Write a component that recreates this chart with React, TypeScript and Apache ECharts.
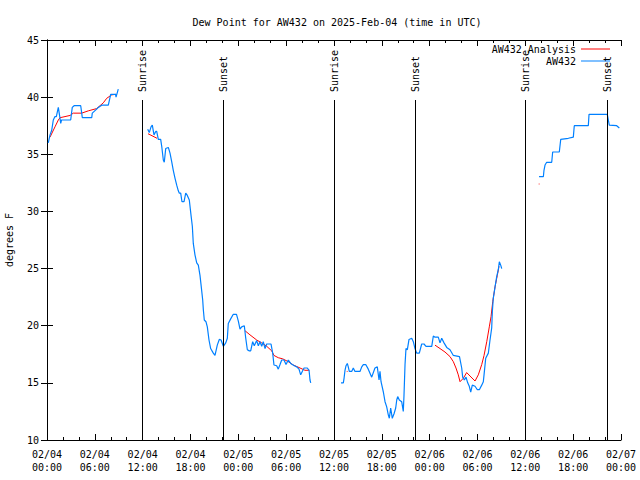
import React, { useEffect, useRef } from "react";
import * as echarts from "echarts";

// hours since 2025-02-04 00:00 UTC, dew point °F
const observed1: [number, number][] = [
  [0.16, 36.0], [0.38, 36.7], [0.59, 37.1], [0.79, 38.0], [1.0, 38.3], [1.17, 38.3], [1.42, 39.1], [1.6, 38.3],
  [1.72, 37.7], [1.82, 38.0], [2.97, 38.0], [3.17, 39.1], [3.4, 39.25], [4.23, 39.25], [4.43, 38.2], [5.61, 38.2],
  [5.68, 38.6], [6.23, 38.95], [6.44, 39.1], [6.86, 39.3], [7.69, 39.3], [7.99, 40.25], [8.6, 40.25], [8.66, 40.0],
  [8.94, 40.7],
];
const observed2: [number, number][] = [
  [12.63, 37.2], [12.83, 36.9], [13.05, 37.4], [13.21, 37.56], [13.42, 36.7], [13.64, 37.0], [13.76, 37.0],
  [13.96, 36.3], [14.26, 36.3], [14.39, 35.7], [14.59, 34.5], [14.71, 34.3], [14.89, 35.5], [15.22, 35.6],
  [15.43, 35.1], [15.64, 34.35], [15.84, 33.6], [16.06, 32.9], [16.27, 32.3], [16.47, 31.8], [16.6, 31.6],
  [16.77, 31.6], [16.93, 30.85], [17.19, 30.85], [17.4, 31.6], [17.6, 31.4], [17.85, 31.0], [18.06, 29.7],
  [18.23, 28.7], [18.35, 27.2], [18.56, 26.2], [18.78, 25.5], [18.98, 25.3], [19.19, 24.4], [19.32, 23.6],
  [19.53, 22.25], [19.61, 21.4], [19.73, 20.5], [19.94, 20.35], [20.11, 19.9], [20.32, 18.75], [20.53, 18.0],
  [20.86, 17.6], [21.07, 17.4], [21.36, 18.3], [21.61, 18.8], [21.83, 18.75], [22.12, 18.2], [22.42, 18.5],
  [22.62, 18.9], [22.74, 20.2], [23.04, 20.6], [23.37, 21.0], [23.77, 21.0], [24.0, 20.4], [24.21, 19.7],
  [24.42, 19.9], [24.75, 20.0], [24.93, 18.9], [25.13, 17.9], [25.38, 17.8], [25.55, 17.8], [25.8, 18.6],
  [26.0, 18.25], [26.3, 18.7], [26.51, 18.25], [26.72, 18.6], [26.93, 18.2], [27.13, 18.6], [27.35, 18.0],
  [27.56, 18.4], [28.1, 18.4], [28.31, 17.6], [28.47, 16.56], [28.81, 16.5], [29.01, 16.2], [29.23, 16.6],
  [29.44, 17.0], [29.73, 17.0], [29.98, 16.6], [30.27, 17.0], [30.57, 16.7], [31.02, 16.5], [31.32, 16.4],
  [31.61, 16.2], [31.82, 15.7], [32.02, 16.0], [32.24, 16.3], [32.65, 16.3], [32.87, 16.1], [32.99, 15.25],
  [33.08, 15.0],
];
const observed3: [number, number][] = [
  [36.88, 15.0], [37.17, 15.0], [37.26, 15.4], [37.38, 16.1], [37.51, 16.5], [37.67, 16.7], [37.79, 16.4],
  [37.92, 16.0], [38.22, 16.0], [38.42, 16.3], [38.63, 16.0], [39.26, 16.0], [39.48, 16.4], [39.68, 16.6],
  [39.98, 16.6], [40.3, 16.2], [40.73, 15.5], [41.14, 16.3], [41.43, 16.4], [41.65, 15.25], [41.77, 16.0],
  [41.9, 15.1], [42.19, 14.2], [42.4, 13.35], [42.61, 12.9], [42.81, 12.2], [42.94, 11.9], [43.11, 12.8],
  [43.31, 11.9], [43.53, 12.3], [43.74, 12.8], [43.87, 13.5], [43.99, 13.8], [44.19, 13.5], [44.49, 13.35],
  [44.69, 12.5], [44.78, 13.9], [44.91, 16.6], [45.03, 18.0], [45.2, 17.9], [45.41, 18.8], [45.75, 18.9],
  [45.95, 18.6], [46.16, 18.0], [46.37, 17.6], [46.7, 17.6], [47.0, 18.4], [47.29, 18.4], [47.54, 18.2],
  [48.26, 18.2], [48.46, 19.1], [48.67, 19.0], [49.08, 19.0], [49.3, 18.5], [49.51, 18.9], [49.8, 18.5],
  [50.14, 18.1], [50.55, 17.9], [50.97, 17.4], [51.74, 17.3], [52.02, 16.3], [52.14, 15.5], [52.35, 15.25],
  [52.56, 15.5], [52.77, 15.0], [52.97, 14.7], [53.15, 14.2], [53.35, 14.8], [53.69, 14.7], [53.98, 14.4],
  [54.23, 14.4], [54.53, 14.8], [54.73, 15.1], [54.82, 15.7], [55.03, 17.15], [55.36, 17.6], [55.57, 18.75],
  [55.78, 19.8], [55.86, 21.2], [55.98, 22.4], [56.2, 23.4], [56.41, 24.3], [56.61, 24.9], [56.74, 25.6],
  [56.91, 25.3], [57.04, 25.0],
];
const observed4: [number, number][] = [
  [61.72, 33.04], [62.26, 33.04], [62.34, 33.6], [62.47, 34.06], [62.68, 34.3], [63.31, 34.3], [63.43, 35.2],
  [64.26, 35.2], [64.44, 36.3], [65.39, 36.4], [66.02, 36.5], [66.14, 37.5], [67.9, 37.5], [67.99, 38.5],
  [70.28, 38.5], [70.53, 37.56], [71.46, 37.5], [71.79, 37.3],
];

const analysis1: [number, number][] = [
  [0.38, 36.5], [1.0, 37.4], [1.42, 38.0], [1.63, 38.2], [2.9, 38.4], [3.3, 38.6], [4.35, 38.6], [5.18, 38.8],
  [6.23, 39.0], [7.06, 39.5], [7.49, 39.9], [8.12, 40.2], [8.66, 40.25],
];
const analysis2: [number, number][] = [[12.67, 36.8], [13.8, 36.4]];
const analysis3: [number, number][] = [
  [24.84, 19.56], [25.46, 19.2], [26.3, 18.75], [26.93, 18.5], [27.56, 18.2], [28.19, 17.8], [28.47, 17.4],
  [29.01, 17.2], [29.57, 17.1], [30.27, 16.85], [30.9, 16.56], [31.74, 16.3], [32.36, 16.1], [32.9, 16.1],
];
const analysis4: [number, number][] = [[37.6, 16.0], [37.7, 16.0]];
const analysis5: [number, number][] = [
  [48.67, 18.3], [49.3, 18.0], [49.92, 17.7], [50.55, 17.3], [50.97, 16.85], [51.3, 16.3], [51.59, 15.7],
  [51.81, 15.1], [52.22, 15.4], [52.64, 15.9], [53.06, 15.6], [53.69, 15.16], [54.1, 15.7], [54.53, 16.6],
  [54.82, 17.4], [55.16, 18.6], [55.48, 19.9], [55.7, 20.8], [55.91, 22.1], [56.2, 23.4], [56.48, 24.4],
  [56.7, 25.2],
];
const analysis6: [number, number][] = [[61.68, 32.4], [61.78, 32.4]];

const sunEvents: { label: string; hour: number }[] = [
  { label: "Sunrise", hour: 11.96 },
  { label: "Sunset", hour: 22.12 },
  { label: "Sunrise", hour: 36.04 },
  { label: "Sunset", hour: 46.2 },
  { label: "Sunrise", hour: 60.05 },
  { label: "Sunset", hour: 70.28 },
];

const titleText = "Dew Point for AW432 on 2025-Feb-04 (time in UTC)";
const yName = "degrees F";
const seriesNames = ["AW432 Analysis", "AW432"];

const joinSegments = (segs: [number, number][][]) => {
  const out: any[] = [];
  segs.forEach((s, i) => {
    if (i > 0) out.push([(segs[i - 1][segs[i - 1].length - 1][0] + s[0][0]) / 2, null]);
    s.forEach((p) => out.push(p));
  });
  return out;
};

const pad = (n: number) => (n < 10 ? "0" + n : "" + n);
const fmtHour = (v: number) => {
  const day = 4 + Math.floor(v / 24);
  const hh = Math.round(v % 24);
  return "02/" + pad(day) + "\n" + pad(hh) + ":00";
};

const FONT = "DejaVu Sans Mono";

export default function App() {
  const ref = useRef<HTMLDivElement>(null);
  useEffect(() => {
    if (!ref.current) return;
    const chart = echarts.init(ref.current, undefined, { renderer: "svg" });
    const xCommon = {
      type: "value" as const,
      min: 0,
      max: 72,
      interval: 6,
      axisLine: { show: true, lineStyle: { color: "#000", width: 1 } },
      axisTick: { show: true, inside: true, length: 6, lineStyle: { color: "#000" } },
      minorTick: { show: true, splitNumber: 3, length: 3, lineStyle: { color: "#000" } },
      splitLine: { show: false },
    };
    const yCommon = {
      type: "value" as const,
      min: 10,
      max: 45,
      interval: 5,
      axisLine: { show: true, lineStyle: { color: "#000", width: 1 } },
      axisTick: { show: true, inside: true, length: 6, lineStyle: { color: "#000" } },
      splitLine: { show: false },
    };
    const sunLines: any[] = [];
    const sunLabels: any[] = [];
    sunEvents.forEach((e) => {
      sunLines.push([{ coord: [e.hour, 10] }, { coord: [e.hour, 39.75] }]);
      sunLabels.push([
        { coord: [e.hour, 40.45], label: { formatter: e.label } },
        { coord: [e.hour, 45] },
      ]);
    });
    chart.setOption({
      animation: false,
      backgroundColor: "#fff",
      textStyle: { fontFamily: FONT, color: "#000" },
      title: {
        text: titleText,
        left: 332,
        top: 12,
        textAlign: "center",
        textStyle: { fontFamily: FONT, fontSize: 10, fontWeight: "normal", color: "#000" },
      },
      legend: {
        data: seriesNames,
        orient: "vertical",
        right: 30,
        top: 44,
        padding: 0,
        align: "right",
        itemWidth: 29,
        itemHeight: 11,
        itemGap: 2,
        icon: "path://M0,0L29,0L29,1L0,1Z",
        textStyle: { fontFamily: FONT, fontSize: 10, color: "#000", padding: [0, 0, 0, 0] },
        selectedMode: false,
      },
      grid: { left: 47, right: 19, top: 40, bottom: 40, outerBoundsMode: "none", containLabel: false },
      xAxis: [
        {
          ...xCommon,
          position: "bottom",
          axisLabel: {
            show: true,
            margin: 8,
            fontFamily: FONT,
            fontSize: 10,
            lineHeight: 13,
            color: "#000",
            formatter: fmtHour,
          },
        },
        { ...xCommon, position: "top", axisLabel: { show: false } },
      ],
      yAxis: [
        {
          ...yCommon,
          position: "left",
          name: yName,
          nameLocation: "middle",
          nameGap: 33,
          nameRotate: 90,
          nameTextStyle: { fontFamily: FONT, fontSize: 10, color: "#000" },
          axisLabel: { show: true, margin: 8, fontFamily: FONT, fontSize: 10, color: "#000" },
        },
        { ...yCommon, position: "right", axisLabel: { show: false } },
      ],
      series: [
        {
          name: seriesNames[0],
          type: "line",
          data: joinSegments([analysis1, analysis2, analysis3, analysis4, analysis5, analysis6]),
          showSymbol: false,
          connectNulls: false,
          lineStyle: { color: "#ff0000", width: 1 },
          itemStyle: { color: "#ff0000" },
          silent: true,
          markLine: {
            silent: true,
            symbol: ["none", "none"],
            lineStyle: { color: "rgba(0,0,0,0)", width: 0, type: "solid" },
            label: {
              show: true,
              position: "insideStart",
              distance: 0,
              color: "#000",
              fontFamily: FONT,
              fontSize: 10,
            },
            data: sunLabels,
          },
        },
        {
          name: seriesNames[1],
          type: "line",
          data: joinSegments([observed1, observed2, observed3, observed4]),
          showSymbol: false,
          connectNulls: false,
          lineStyle: { color: "#0080ff", width: 1.2 },
          itemStyle: { color: "#0080ff" },
          silent: true,
          markLine: {
            silent: true,
            symbol: ["none", "none"],
            lineStyle: { color: "#000", width: 1, type: "solid" },
            label: { show: false },
            data: sunLines,
          },
        },
      ],
    });
    return () => chart.dispose();
  }, []);
  return <div ref={ref} style={{ width: 640, height: 480, position: "absolute", left: 0, top: 0 }} />;
}
